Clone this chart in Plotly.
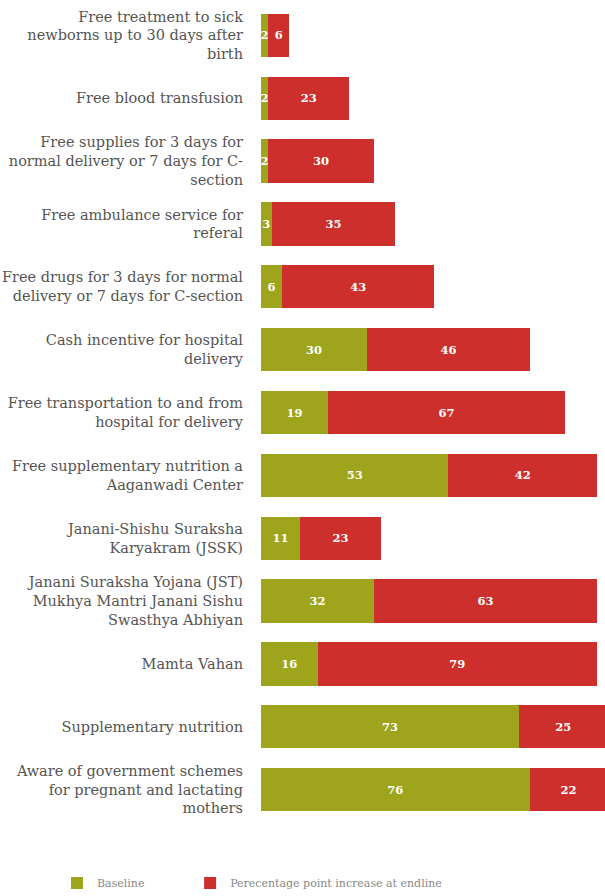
import plotly.graph_objects as go

categories = [
    "Free treatment to sick<br>newborns up to 30 days after<br>birth",
    "Free blood transfusion",
    "Free supplies for 3 days for<br>normal delivery or 7 days for C-<br>section",
    "Free ambulance service for<br>referal",
    "Free drugs for 3 days for normal<br>delivery or 7 days for C-section",
    "Cash incentive for hospital<br>delivery",
    "Free transportation to and from<br>hospital for delivery",
    "Free supplementary nutrition a<br>Aaganwadi Center",
    "Janani-Shishu Suraksha<br>Karyakram (JSSK)",
    "Janani Suraksha Yojana (JST)<br>Mukhya Mantri Janani Sishu<br>Swasthya Abhiyan",
    "Mamta Vahan",
    "Supplementary nutrition",
    "Aware of government schemes<br>for pregnant and lactating<br>mothers",
]
baseline = [2, 2, 2, 3, 6, 30, 19, 53, 11, 32, 16, 73, 76]
increase = [6, 23, 30, 35, 43, 46, 67, 42, 23, 63, 79, 25, 22]

GREEN = "#9ea41c"
RED = "#cc2f2c"
TEXT = "#555555"

fig = go.Figure()
fig.add_trace(go.Bar(
    y=categories, x=baseline, orientation="h", name="Baseline",
    marker=dict(color=GREEN, line=dict(width=0)),
    text=[str(v) for v in baseline], textposition="inside",
    insidetextanchor="middle",
    textfont=dict(family="DejaVu Serif", size=11.5, color="white", weight="bold"),
    legend="legend",
))
fig.add_trace(go.Bar(
    y=categories, x=increase, orientation="h",
    name="Perecentage point increase at endline",
    marker=dict(color=RED, line=dict(width=0)),
    text=[str(v) for v in increase], textposition="inside",
    insidetextanchor="middle",
    textfont=dict(family="DejaVu Serif", size=11.5, color="white", weight="bold"),
    legend="legend2",
))

legend_font = dict(family="DejaVu Serif", size=11, color="#888888")
fig.update_layout(
    barmode="stack",
    bargap=0.31,
    width=605, height=896,
    margin=dict(l=261, r=0, t=4, b=75, autoexpand=False),
    paper_bgcolor="white", plot_bgcolor="white",
    font=dict(family="DejaVu Serif", size=14.5, color=TEXT),
    uniformtext=dict(minsize=10, mode="show"),
    showlegend=True,
    legend=dict(
        orientation="h", x=-0.593, xanchor="left", y=-0.076, yanchor="middle",
        font=legend_font, bgcolor="rgba(0,0,0,0)",
    ),
    legend2=dict(
        orientation="h", x=-0.206, xanchor="left", y=-0.076, yanchor="middle",
        font=legend_font, bgcolor="rgba(0,0,0,0)",
    ),
)
fig.update_xaxes(range=[0, 97.3], visible=False, fixedrange=True)
fig.update_yaxes(
    autorange="reversed", automargin=False, showgrid=False, showline=False,
    ticks="", ticklabelstandoff=17,
    tickfont=dict(family="DejaVu Serif", size=14.5, color=TEXT),
)

fig.write_html("out.html")
